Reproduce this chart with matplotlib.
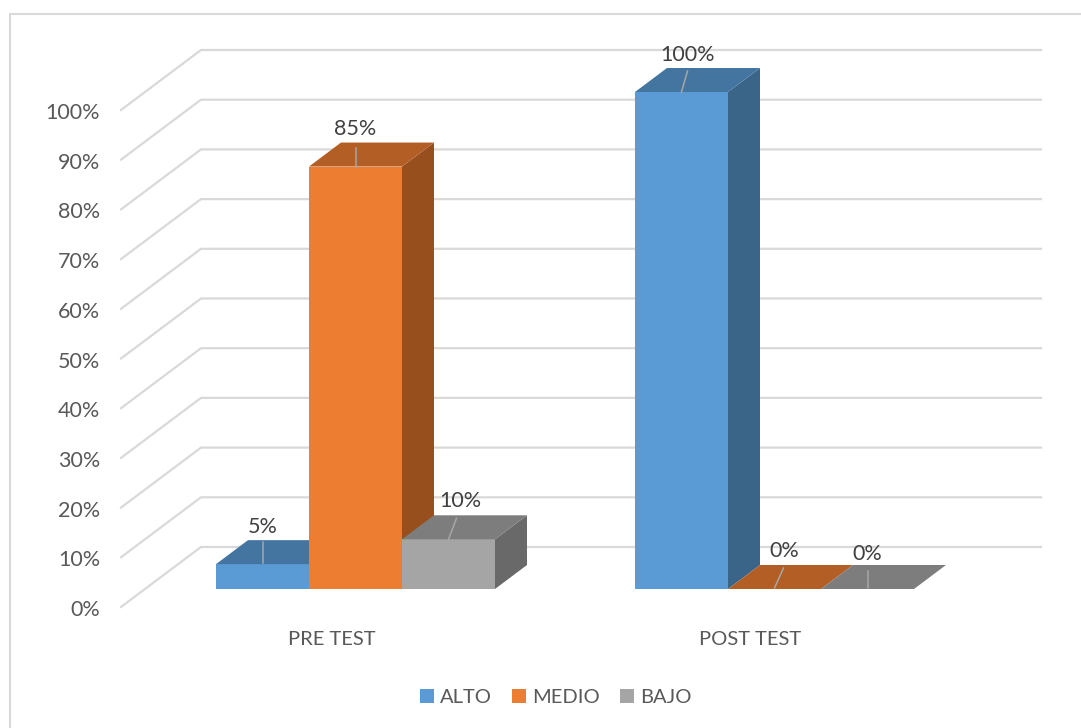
import matplotlib
matplotlib.use("Agg")
import matplotlib.pyplot as plt
from matplotlib.lines import Line2D
from matplotlib.patches import Patch, Polygon
from matplotlib.transforms import ScaledTranslation

plt.rcParams['font.family'] = ['Lato', 'DejaVu Sans']

# ---- data ----
categories = ["PRE TEST", "POST TEST"]
series_names = ["ALTO", "MEDIO", "BAJO"]
alto = [5, 100]
medio = [85, 0]
bajo = [10, 0]
y_ticks = [0, 10, 20, 30, 40, 50, 60, 70, 80, 90, 100]

# ---- style ----
W, H = 1081, 728
front = ["#5B9BD5", "#ED7D31", "#A5A5A5"]
top = ["#4475A1", "#B35E25", "#7D7D7D"]
side = ["#3A6488", "#984F1E", "#696969"]
GRID = "#D9D9D9"
TXT = "#595959"
LBL = "#404040"
FS = 15.5
FS_SMALL = 14.5

fig = plt.figure(figsize=(W / 100, H / 100), dpi=100, facecolor="white")
# plot rectangle (front plane of the 3-D box)
L, R, T, B = 121, 961, 110, 607
ax = fig.add_axes([L / W, 1 - B / H, (R - L) / W, (B - T) / H])
PX_CAT = 419.0          # pixels per category
CAT0 = 331.5            # pixel of first category
ax.set_xlim((L - CAT0) / PX_CAT, (R - CAT0) / PX_CAT)
ax.set_ylim(0, 100)
for s in ax.spines.values():
    s.set_visible(False)
ax.patch.set_alpha(0)

PX_VAL = (B - T) / 100.0
DEPTH_X, DEPTH_Y = 80.0, 60.0


def proj(x, v, z):
    """Oblique projection of (category x, value v, depth z) to data coordinates."""
    return x + z * DEPTH_X / PX_CAT, v + z * DEPTH_Y / PX_VAL


# gridlines: slanted side wall + back wall
xl, xr = ax.get_xlim()
for t in y_ticks:
    p0 = proj(xl, t, 0)
    p1 = proj(xl, t, 1)
    p2 = proj(xr, t, 1)
    ax.plot([p0[0], p1[0], p2[0]], [p0[1], p1[1], p2[1]], color=GRID, lw=1.6,
            clip_on=False, zorder=1, solid_joinstyle="miter")

# bars
BAR_W = 93.0 / PX_CAT
Z0, Z1 = 0.3, 0.7
all_series = [alto, medio, bajo]
# label offset from the centre of the bar's front-top edge (pixels: dx, up)
label_off = {(0, 0): (0, 37), (0, 1): (0, 38), (0, 2): (12, 38),
             (1, 0): (6, 37), (1, 1): (9.5, 38), (1, 2): (0, 35)}
leader_a = {(0, 0): (0, 1), (0, 1): (0, 0), (0, 2): (0, 0),
            (1, 0): (0, 0), (1, 1): (0, 1), (1, 2): (0, 1)}
leader_b = {(0, 0): (0, 22), (0, 1): (0, 19), (0, 2): (8, 21),
            (1, 0): (6, 21), (1, 1): (9, 21), (1, 2): (0, 18)}
z = 3
for c in range(len(categories)):
    for s in range(3):
        v = all_series[s][c]
        x0 = c + (s - 1.5) * BAR_W
        x1 = x0 + BAR_W
        if v > 0:
            ax.add_patch(Polygon([proj(x0, 0, Z0), proj(x1, 0, Z0), proj(x1, v, Z0), proj(x0, v, Z0)],
                                 closed=True, fc=front[s], ec="none", clip_on=False, zorder=z))
            ax.add_patch(Polygon([proj(x1, 0, Z0), proj(x1, 0, Z1), proj(x1, v, Z1), proj(x1, v, Z0)],
                                 closed=True, fc=side[s], ec="none", clip_on=False, zorder=z))
        ax.add_patch(Polygon([proj(x0, v, Z0), proj(x1, v, Z0), proj(x1, v, Z1), proj(x0, v, Z1)],
                             closed=True, fc=top[s], ec="none", clip_on=False, zorder=z))
        z += 1
        # leader line and data label
        cx, cy = proj(x0 + BAR_W / 2, v, Z0)
        a, b, o = leader_a[(c, s)], leader_b[(c, s)], label_off[(c, s)]
        ax.plot([cx + a[0] / PX_CAT, cx + b[0] / PX_CAT],
                [cy + a[1] / PX_VAL, cy + b[1] / PX_VAL],
                color="#A6A6A6", lw=1.1, clip_on=False, zorder=20)
        ax.text(cx + o[0] / PX_CAT, cy + o[1] / PX_VAL, f"{v}%", ha="center", va="center",
                color=LBL, fontsize=FS, zorder=21, clip_on=False)

# axes texts
ax.set_yticks(y_ticks)
ax.set_yticklabels([f"{t}%" for t in y_ticks], fontsize=FS, color=TXT)
ax.set_xticks(range(len(categories)))
ax.set_xticklabels(categories, fontsize=FS_SMALL, color=TXT)
ax.tick_params(axis="both", length=0)
ax.tick_params(axis="y", pad=15)
ax.tick_params(axis="x", pad=17)
shift = ScaledTranslation(0, -1 / 100, fig.dpi_scale_trans)
for lb in ax.get_yticklabels():
    lb.set_transform(lb.get_transform() + shift)

# legend
handles = [Patch(fc=front[i], ec="none", label=series_names[i]) for i in range(3)]
fig.legend(handles=handles, ncol=3, loc="center", bbox_to_anchor=(555.5 / W, 1 - 697.5 / H),
           frameon=False, fontsize=FS_SMALL, labelcolor=TXT, handlelength=0.69, handleheight=0.69,
           handletextpad=0.3, columnspacing=1.0, borderpad=0, borderaxespad=0)

# chart-area border (top and left edges are visible)
fig.add_artist(Line2D([9.5 / W, 9.5 / W, 1], [0, 1 - 14 / H, 1 - 14 / H],
                      color=GRID, lw=1.5, solid_joinstyle="miter"))

fig.savefig("out.png", dpi=100, facecolor="white")
